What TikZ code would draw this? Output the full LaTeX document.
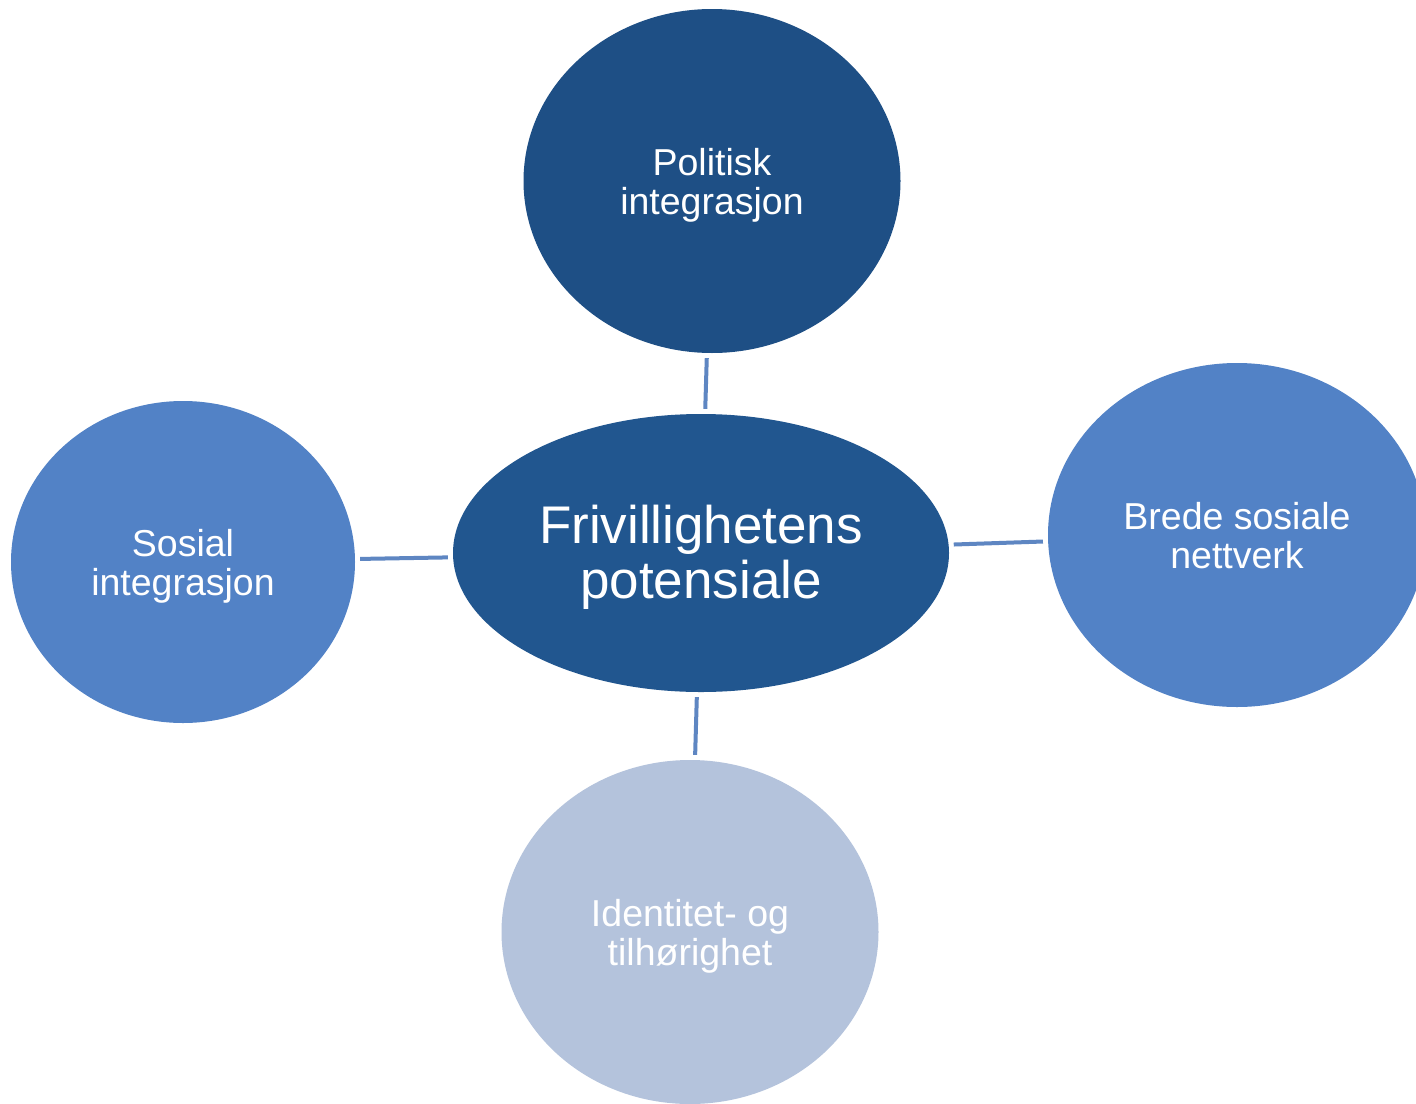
\documentclass[tikz,border=0pt]{standalone}
\usepackage{fontspec}
\setmainfont{Liberation Sans}
\usetikzlibrary{shapes.geometric}
\definecolor{cdark}{HTML}{1E4F85}
\definecolor{ccenter}{HTML}{21568F}
\definecolor{cmid}{HTML}{5282C6}
\definecolor{clight}{HTML}{B4C3DC}
\definecolor{cline}{HTML}{5E86C2}
\newcommand{\twoline}[3][-6pt]{\raisebox{#1}[\height][\depth]{\begin{tabular}{@{}c@{}}#2\\#3\end{tabular}}}
\tikzset{
  bubble/.style={ellipse, inner sep=0pt, draw=none, text=white, align=center,
    font=\fontsize{37.5}{38}\selectfont},
  link/.style={draw=cline, line width=4pt, shorten <=5pt, shorten >=5pt}
}
\begin{document}
\begin{tikzpicture}[x=1pt,y=-1pt]
\clip (0,0) rectangle (1416,1103);
\fill[white] (0,0) rectangle (1416,1103);
\node[bubble, fill=cdark, minimum width=377pt, minimum height=344pt] (top) at (712,181) {\twoline{Politisk}{integrasjon}};
\node[bubble, fill=ccenter, minimum width=496pt, minimum height=278pt, font=\fontsize{53}{54}\selectfont] (center) at (701,553) {\twoline[-7pt]{Frivillighetens}{potensiale}};
\node[bubble, fill=cmid, minimum width=378pt, minimum height=344pt] (right) at (1237,535) {\twoline{Brede sosiale}{nettverk}};
\node[bubble, fill=cmid, minimum width=344pt, minimum height=322pt] (left) at (183,562) {\twoline{Sosial}{integrasjon}};
\node[bubble, fill=clight, minimum width=377pt, minimum height=344pt] (bottom) at (690,932) {\twoline{Identitet- og}{tilhørighet}};
\draw[link] (top) -- (center);
\draw[link] (center) -- (right);
\draw[link] (left) -- (center);
\draw[link] (center) -- (bottom);
\end{tikzpicture}
\end{document}
